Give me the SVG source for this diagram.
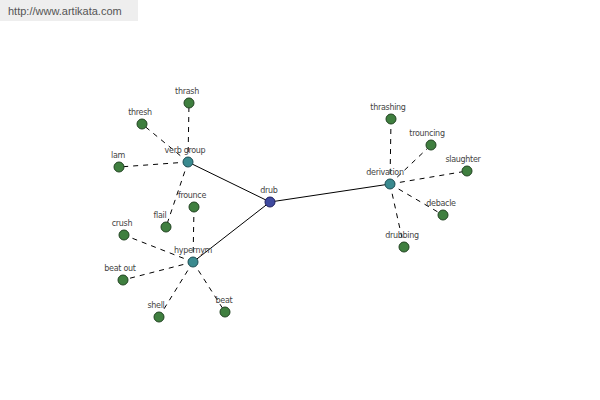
<svg xmlns="http://www.w3.org/2000/svg" width="600" height="400" viewBox="0 0 600 400">
<style>
.bg{fill:#ffffff}
.hdr{fill:#eeeeee}
.url{font-family:"Liberation Sans",Arial,sans-serif;font-size:11px;fill:#555555}
.lbl{font-family:"DejaVu Sans",Verdana,sans-serif;font-size:8px;fill:#444444;text-anchor:middle;letter-spacing:-0.3px}
.solid{stroke:#000000;stroke-width:1;fill:none}
.dash{stroke:#000000;stroke-width:1;stroke-dasharray:5,5;fill:none}
.leaf{fill:#3f7f3f;stroke:#224422;stroke-width:1}
.rel{fill:#3a8a8f;stroke:#1f4f55;stroke-width:1}
.root{fill:#3f4a9f;stroke:#202060;stroke-width:1}
</style>
<rect class="bg" x="0" y="0" width="600" height="400"/>
<rect class="hdr" x="0" y="0" width="138" height="21"/>
<text class="url" x="8" y="15">http://www.artikata.com</text>
<g id="connectors">
<line class="solid" x1="270" y1="202" x2="188" y2="162"/>
<line class="solid" x1="270" y1="202" x2="193" y2="262"/>
<line class="solid" x1="270" y1="202" x2="390" y2="184"/>
<line class="dash" x1="188" y1="162" x2="189" y2="103"/>
<line class="dash" x1="188" y1="162" x2="142" y2="124"/>
<line class="dash" x1="188" y1="162" x2="119" y2="167"/>
<line class="dash" x1="188" y1="162" x2="166" y2="227"/>
<line class="dash" x1="193" y1="262" x2="194" y2="207"/>
<line class="dash" x1="193" y1="262" x2="124" y2="235"/>
<line class="dash" x1="193" y1="262" x2="123" y2="280"/>
<line class="dash" x1="193" y1="262" x2="159" y2="317"/>
<line class="dash" x1="193" y1="262" x2="225" y2="312"/>
<line class="dash" x1="390" y1="184" x2="391" y2="119"/>
<line class="dash" x1="390" y1="184" x2="431" y2="145"/>
<line class="dash" x1="390" y1="184" x2="467" y2="171"/>
<line class="dash" x1="390" y1="184" x2="443" y2="215"/>
<line class="dash" x1="390" y1="184" x2="404" y2="247"/>
</g>
<g id="n-thrash"><circle class="leaf" cx="189" cy="103" r="5"/><text class="lbl" x="187" y="94">thrash</text></g>
<g id="n-thresh"><circle class="leaf" cx="142" cy="124" r="5"/><text class="lbl" x="140" y="115">thresh</text></g>
<g id="n-lam"><circle class="leaf" cx="119" cy="167" r="5"/><text class="lbl" x="118" y="158">lam</text></g>
<g id="n-flail"><circle class="leaf" cx="166" cy="227" r="5"/><text class="lbl" x="160" y="218">flail</text></g>
<g id="n-frounce"><circle class="leaf" cx="194" cy="207" r="5"/><text class="lbl" x="192" y="198">frounce</text></g>
<g id="n-crush"><circle class="leaf" cx="124" cy="235" r="5"/><text class="lbl" x="122" y="226">crush</text></g>
<g id="n-beat-out"><circle class="leaf" cx="123" cy="280" r="5"/><text class="lbl" x="120" y="271">beat out</text></g>
<g id="n-shell"><circle class="leaf" cx="159" cy="317" r="5"/><text class="lbl" x="156" y="308">shell</text></g>
<g id="n-beat"><circle class="leaf" cx="225" cy="312" r="5"/><text class="lbl" x="224" y="303">beat</text></g>
<g id="n-thrashing"><circle class="leaf" cx="391" cy="119" r="5"/><text class="lbl" x="388" y="110">thrashing</text></g>
<g id="n-trouncing"><circle class="leaf" cx="431" cy="145" r="5"/><text class="lbl" x="427" y="136">trouncing</text></g>
<g id="n-slaughter"><circle class="leaf" cx="467" cy="171" r="5"/><text class="lbl" x="463" y="162">slaughter</text></g>
<g id="n-debacle"><circle class="leaf" cx="443" cy="215" r="5"/><text class="lbl" x="441" y="206">debacle</text></g>
<g id="n-drubbing"><circle class="leaf" cx="404" cy="247" r="5"/><text class="lbl" x="402" y="238">drubbing</text></g>
<g id="n-verb-group"><circle class="rel" cx="188" cy="162" r="5"/><text class="lbl" x="185" y="153">verb group</text></g>
<g id="n-hypernym"><circle class="rel" cx="193" cy="262" r="5"/><text class="lbl" x="193" y="253">hypernym</text></g>
<g id="n-derivation"><circle class="rel" cx="390" cy="184" r="5"/><text class="lbl" x="385" y="175">derivation</text></g>
<g id="n-drub"><circle class="root" cx="270" cy="202" r="5"/><text class="lbl" x="269" y="193">drub</text></g>
</svg>
